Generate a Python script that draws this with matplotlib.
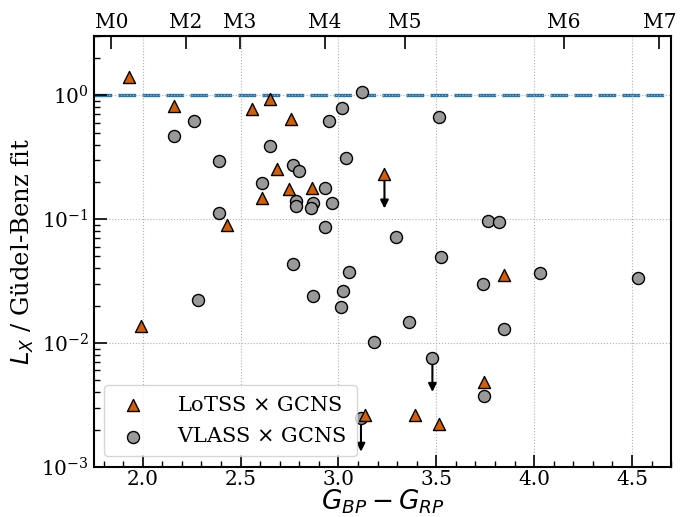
import numpy as np
import matplotlib.pyplot as plt

plt.rcParams['font.family'] = 'DejaVu Serif'
plt.rcParams['mathtext.fontset'] = 'dejavusans'

# LoTSS x GCNS (triangles)
lotss_bprp = [1.93, 2.16, 2.56, 2.65, 2.76, 2.685, 2.61, 2.745, 2.865, 2.43,
              3.235, 1.99, 3.135, 3.845, 3.745, 3.39, 3.515]
lotss_ratio = [1.40, 0.82, 0.78, 0.93, 0.64, 0.256, 0.149, 0.175, 0.18, 0.0895,
               0.23, 0.0137, 0.0026, 0.0353, 0.00485, 0.0026, 0.00222]
lotss_uplim = [False, False, False, False, False, False, False, False, False, False,
               True, False, False, False, False, False, False]

# VLASS x GCNS (circles)
vlass_bprp = [2.16, 2.26, 2.39, 2.39, 2.65, 2.61, 2.77, 2.80, 2.785, 2.785,
              2.87, 2.86, 2.93, 2.965, 2.93, 2.95, 3.02, 3.12, 3.04, 2.77,
              3.055, 2.28, 2.87, 3.025, 3.015, 3.18, 3.115, 3.515, 3.765, 3.82,
              3.295, 3.525, 3.74, 4.03, 4.53, 3.36, 3.845, 3.48, 3.745]
vlass_ratio = [0.467, 0.617, 0.297, 0.113, 0.393, 0.195, 0.276, 0.245, 0.14, 0.128,
               0.134, 0.123, 0.179, 0.135, 0.0867, 0.617, 0.79, 1.07, 0.31, 0.0434,
               0.0372, 0.0223, 0.0239, 0.0263, 0.0195, 0.0102, 0.0025, 0.668, 0.0969, 0.095,
               0.072, 0.0494, 0.030, 0.0365, 0.0332, 0.0147, 0.013, 0.0076, 0.00374]
vlass_uplim = [False] * 39
vlass_uplim[26] = True
vlass_uplim[37] = True

# spectral types along the top axis
spt_bprp = [1.84, 2.22, 2.495, 2.93, 3.34, 4.15, 4.64]
spt_labels = ['M0', 'M2', 'M3', 'M4', 'M5', 'M6', 'M7']

orange = '#D55E00'
grey = '#999999'

fig, ax = plt.subplots(figsize=(6.8, 5.17), dpi=100)

# upper-limit arrows
arrow_factor = 0.53
for xs, ys, lims in [(lotss_bprp, lotss_ratio, lotss_uplim),
                     (vlass_bprp, vlass_ratio, vlass_uplim)]:
    for x, y, lim in zip(xs, ys, lims):
        if lim:
            ax.annotate('', xy=(x, y * arrow_factor), xytext=(x, y),
                        arrowprops=dict(arrowstyle='-|>', color='k', lw=1.5,
                                        mutation_scale=12, shrinkA=0, shrinkB=0),
                        zorder=2)

ax.axhline(1.0, color='#1f77b4', lw=2.4, ls=(0, (5.3, 1.9)), zorder=1)

ax.scatter(lotss_bprp, lotss_ratio, marker='^', s=75, c=orange, edgecolors='k',
           linewidths=1, zorder=4, label=r'LoTSS $\times$ GCNS')
ax.scatter(vlass_bprp, vlass_ratio, marker='o', s=75, c=grey, edgecolors='k',
           linewidths=1, zorder=3, label=r'VLASS $\times$ GCNS')

ax.set_yscale('log')
ax.set_xlim(1.75, 4.7)
ax.set_ylim(1e-3, 3)
ax.set_xticks([2.0, 2.5, 3.0, 3.5, 4.0, 4.5])
ax.set_xticks(np.arange(1.8, 4.71, 0.1), minor=True)
ax.grid(True, which='major', ls=':', color='#b0b0b0', lw=0.8)

ax.tick_params(which='both', direction='in', labelsize=14.5)
ax.tick_params(which='major', length=9, width=1.2)
ax.tick_params(which='minor', length=4, width=1)
ax.tick_params(axis='x', which='minor', top=False)
ax.tick_params(axis='x', which='major', pad=2.5)
for sp in ax.spines.values():
    sp.set_linewidth(1.5)

top = ax.secondary_xaxis('top')
top.set_xticks(spt_bprp)
top.set_xticklabels(spt_labels)
top.tick_params(direction='in', length=9, width=1.2, labelsize=14.5, pad=3)
top.xaxis.set_minor_locator(plt.NullLocator())

ax.set_xlabel(r'$G_{BP} - G_{RP}$', fontsize=19, labelpad=-1)
ax.set_ylabel(r'$L_X$ / Güdel-Benz fit', fontsize=17.5, labelpad=4)

ax.legend(loc='lower left', fontsize=15, handletextpad=1.2, borderpad=0.5,
          handlelength=1.8, labelspacing=0.6)

fig.subplots_adjust(left=0.138, right=0.987, top=0.93, bottom=0.097)
fig.savefig('out.png', dpi=100)
